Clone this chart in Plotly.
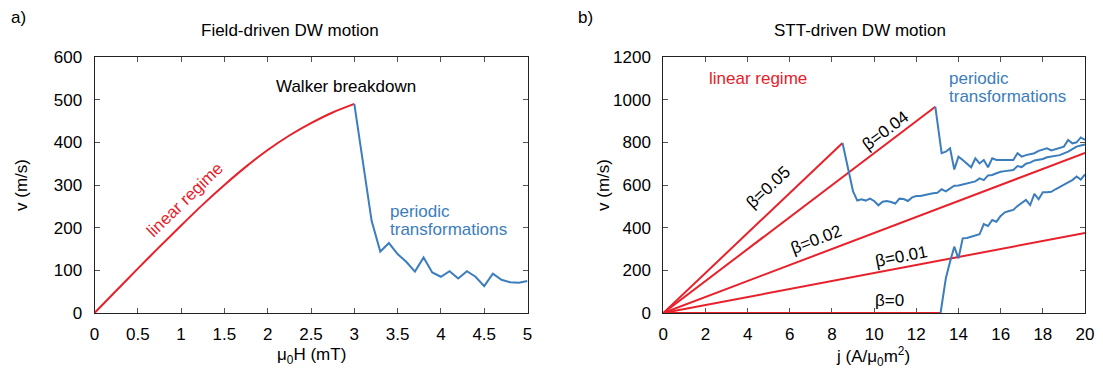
import plotly.graph_objects as go

# ---- panel a: field-driven domain wall motion ----
field_h_linear = [0, 0.25, 0.5, 0.75, 1.0, 1.25, 1.5, 1.75, 2.0, 2.25, 2.5, 2.75, 3.0]
field_v_linear = [0, 52, 104, 155, 205, 254, 300, 343, 382, 416, 445, 470, 490]

field_h_periodic = [3.0, 3.1, 3.2, 3.3, 3.4, 3.5, 3.6, 3.7, 3.8, 3.9, 4.0,
                    4.1, 4.2, 4.3, 4.4, 4.5, 4.6, 4.7, 4.8, 4.9, 5.0]
field_v_periodic = [490, 347, 216, 144, 164, 138, 120, 97, 130, 95, 85,
                    98, 81, 98, 85, 63, 92, 78, 72, 71, 75]

# ---- panel b: STT-driven domain wall motion ----
beta_labels = ["β=0.05", "β=0.04", "β=0.02", "β=0.01", "β=0"]
linear_j_end = [8.5, 12.9, 20, 20, 13.15]
linear_v_end = [797, 967, 750, 375, 0]

stt_j_a = [8.5, 8.8, 9.0, 9.2, 9.4, 9.6, 9.8, 10.0, 10.2, 10.4, 10.6, 10.8, 11.0,
           11.2, 11.4, 11.6, 11.8, 12.0, 12.2, 12.4, 12.6, 12.8, 13.0, 13.2, 13.4,
           13.6, 13.8, 14.0, 14.2, 14.4, 14.6, 14.8, 15.0, 15.2, 15.4, 15.6, 15.8,
           16.0, 16.2, 16.4, 16.6, 16.8, 17.0, 17.2, 17.4, 17.6, 17.8, 18.0, 18.2,
           18.4, 18.6, 18.8, 19.0, 19.2, 19.4, 19.6, 19.8, 20.0]
stt_v_a = [797, 660, 570, 527, 533, 527, 536, 525, 505, 522, 525, 520, 513,
           536, 534, 525, 542, 548, 548, 553, 558, 561, 564, 580, 570,
           584, 597, 598, 603, 608, 612, 617, 631, 623, 645, 647, 655,
           662, 665, 668, 670, 689, 684, 700, 705, 715, 718, 722, 730,
           733, 736, 740, 748, 756, 768, 780, 785, 790]

stt_j_b = [12.9, 13.2, 13.4, 13.6, 13.8, 14.0, 14.2, 14.4, 14.6, 14.8, 15.0, 15.2,
           15.4, 15.6, 15.8, 16.0, 16.2, 16.4, 16.6, 16.8, 17.0, 17.2, 17.4, 17.6,
           17.8, 18.0, 18.2, 18.4, 18.6, 18.8, 19.0, 19.2, 19.4, 19.6, 19.8, 20.0]
stt_v_b = [967, 749, 756, 772, 673, 733, 717, 700, 683, 725, 701, 717,
           683, 725, 717, 717, 718, 717, 717, 749, 733, 740, 745, 749,
           760, 765, 772, 762, 768, 775, 780, 811, 795, 800, 823, 811]

stt_j_c = [13.15, 13.4, 13.6, 13.8, 14.0, 14.2, 14.4, 14.6, 14.8, 15.0, 15.2, 15.4,
           15.6, 15.8, 16.0, 16.2, 16.4, 16.6, 16.8, 17.0, 17.2, 17.4, 17.6, 17.8,
           18.0, 18.2, 18.4, 18.6, 18.8, 19.0, 19.2, 19.4, 19.6, 19.8, 20.0]
stt_v_c = [0, 163, 240, 311, 256, 350, 352, 358, 362, 369, 417, 408,
           436, 428, 455, 472, 478, 483, 502, 515, 530, 506, 558, 533,
           566, 566, 568, 580, 592, 603, 612, 623, 640, 625, 650]

RED = "#e8202a"
BLUE = "#3b7dbd"
FONT = "Liberation Sans, Arial, sans-serif"
FS = 17
W, H = 1103, 376

fig = go.Figure()

fig.add_trace(go.Scatter(x=field_h_linear, y=field_v_linear, mode="lines",
                         line=dict(color=RED, width=2, shape="spline", smoothing=0.6),
                         xaxis="x", yaxis="y"))
fig.add_trace(go.Scatter(x=field_h_periodic, y=field_v_periodic, mode="lines",
                         line=dict(color=BLUE, width=2), xaxis="x", yaxis="y"))

for j_end, v_end in zip(linear_j_end, linear_v_end):
    fig.add_trace(go.Scatter(x=[0, j_end], y=[0, v_end], mode="lines",
                             line=dict(color=RED, width=2), xaxis="x2", yaxis="y2"))
for jj, vv in [(stt_j_a, stt_v_a), (stt_j_b, stt_v_b), (stt_j_c, stt_v_c)]:
    fig.add_trace(go.Scatter(x=jj, y=vv, mode="lines",
                             line=dict(color=BLUE, width=2), xaxis="x2", yaxis="y2"))

axis_common = dict(showline=True, linecolor="#222", linewidth=1, mirror="ticks",
                   ticks="inside", ticklen=5, tickcolor="#555", showgrid=False,
                   zeroline=False, tickfont=dict(size=FS, color="black", family=FONT),
                   layer="below traces", automargin=False)

ybot, ytop = 1 - 313 / H, 1 - 57 / H

fig.update_layout(
    width=W, height=H, margin=dict(l=0, r=0, t=0, b=0),
    paper_bgcolor="white", plot_bgcolor="white", showlegend=False,
    font=dict(family=FONT, size=FS, color="black"),
    xaxis=dict(domain=[94.5 / W, 527.5 / W], range=[0, 5], tickvals=[0, 0.5, 1, 1.5, 2, 2.5, 3, 3.5, 4, 4.5, 5],
               ticktext=["0", "0.5", "1", "1.5", "2", "2.5", "3", "3.5", "4", "4.5", "5"],
               anchor="y", ticklabelstandoff=6, **axis_common),
    yaxis=dict(domain=[ybot, ytop], range=[0, 600], tickvals=list(range(0, 601, 100)),
               anchor="x", ticklabelstandoff=8, **axis_common),
    xaxis2=dict(domain=[663.3 / W, 1085 / W], range=[0, 20], tickvals=list(range(0, 21, 2)),
                anchor="y2", ticklabelstandoff=6, **axis_common),
    yaxis2=dict(domain=[ybot, ytop], range=[0, 1200], tickvals=list(range(0, 1201, 200)),
                anchor="x2", ticklabelstandoff=8, **axis_common),
)


def paper_text(text, px, py, angle=0, color="black"):
    return dict(text=text, x=px / W, y=1 - py / H, xref="paper", yref="paper",
                xanchor="center", yanchor="middle", textangle=angle, showarrow=False,
                font=dict(size=FS, color=color))


ann = []
# panel letters, titles and axis titles
ann.append(paper_text("a)", 18, 18))
ann.append(paper_text("b)", 585, 18))
ann.append(paper_text("Field-driven DW motion", 290, 31))
ann.append(paper_text("STT-driven DW motion", 860, 31))
ann.append(paper_text("μ<sub>0</sub>H (mT)", 311, 356))
ann.append(paper_text("j (A/μ<sub>0</sub>m<sup>2</sup>)", 873, 356))
ann.append(paper_text("v (m/s)", 21, 185, angle=-90))
ann.append(paper_text("v (m/s)", 603, 185, angle=-90))

# panel a labels
ann.append(dict(text="Walker breakdown", x=2.9, y=530, xref="x", yref="y",
                showarrow=False, font=dict(size=FS, color="black")))
ann.append(dict(text="linear regime", x=1.05, y=265, xref="x", yref="y", textangle=-44,
                showarrow=False, font=dict(size=FS, color=RED)))
for line_text, vy in [("periodic", 237), ("transformations", 195)]:
    ann.append(dict(text=line_text, x=3.39, y=vy, xref="x", yref="y", xanchor="left",
                    yanchor="middle", showarrow=False, font=dict(size=FS, color=BLUE)))

# panel b labels
ann.append(dict(text="linear regime", x=4.5, y=1097, xref="x2", yref="y2",
                showarrow=False, font=dict(size=FS, color=RED)))
for line_text, vy in [("periodic", 1097), ("transformations", 1013)]:
    ann.append(dict(text=line_text, x=13.45, y=vy, xref="x2", yref="y2", xanchor="left",
                    yanchor="middle", showarrow=False, font=dict(size=FS, color=BLUE)))
beta_pos = [(4.97, 588, -43), (10.55, 856, -37), (7.27, 343, -21), (11.3, 265, -11), (10.75, 60, 0)]
for label, (bx, by, ang) in zip(beta_labels, beta_pos):
    ann.append(dict(text=label, x=bx, y=by, xref="x2", yref="y2", textangle=ang,
                    showarrow=False, font=dict(size=FS, color="black")))

fig.update_layout(annotations=ann)
fig.write_html("out.html")
